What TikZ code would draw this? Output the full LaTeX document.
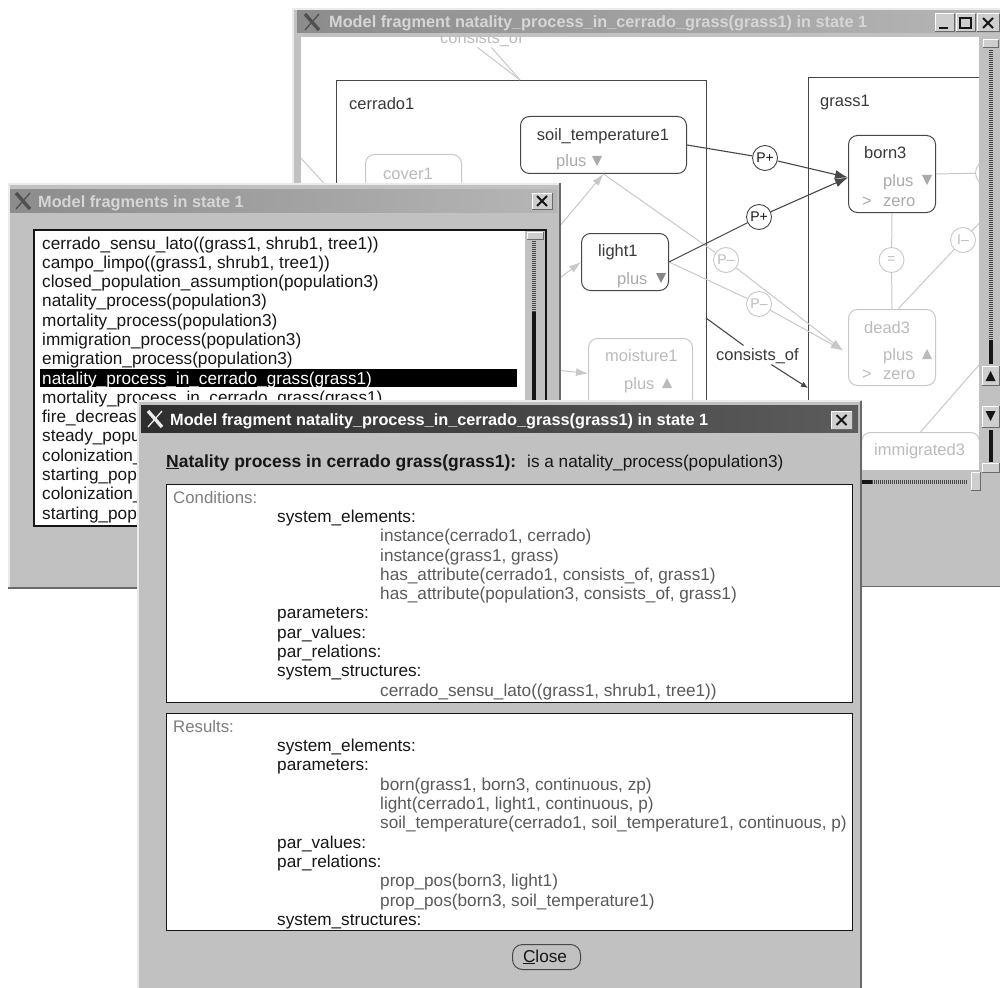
\documentclass[tikz,border=0pt]{standalone}
\usepackage{fontspec}
\setmainfont{Liberation Sans}
\usetikzlibrary{arrows.meta}

\definecolor{winbg}{HTML}{C1C1C1}
\definecolor{winhi}{HTML}{EBEBEB}
\definecolor{winlo}{HTML}{6A6A6A}
\definecolor{ink}{HTML}{161616}
\definecolor{inkmid}{HTML}{5A5A5A}
\definecolor{inksoft}{HTML}{7E7E7E}
\definecolor{edge}{HTML}{474747}
\definecolor{ghost}{HTML}{C8C8C8}
\definecolor{ghosttext}{HTML}{BBBBBB}
\definecolor{plusgray}{HTML}{AAAAAA}
\definecolor{tbonA}{HTML}{2E2E2E}
\definecolor{tbonB}{HTML}{5C5C5C}
\definecolor{tboffA}{HTML}{8C8C8C}
\definecolor{tboffB}{HTML}{B6B6B6}
\definecolor{tbofftext}{HTML}{D6D6D6}

% X window-system logo centred at (#1,#2) in colour #3
\newcommand\xwinlogo[3]{%
  \draw[#3,line width=3.4pt] ({#1-7},{#2-8}) -- ({#1+7},{#2+8});
  \draw[#3,line width=1.3pt] ({#1+7},{#2-8}) -- ({#1-7},{#2+8});
}
% raised bevelled button from (#1,#2) to (#3,#4)
\newcommand\winbevel[4]{%
  \fill[winbg!80!white] (#1,#2) rectangle (#3,#4);
  \draw[white,line width=1pt] (#1,#4) -- (#1,#2) -- (#3,#2);
  \draw[winlo,line width=1pt] (#1,#4) -- (#3,#4) -- (#3,#2);
}
% cross of a close button centred at (#1,#2), half size #3
\newcommand\wincross[3]{%
  \draw[ink,line width=1.8pt] ({#1-#3},{#2-#3}) -- ({#1+#3},{#2+#3})
                              ({#1+#3},{#2-#3}) -- ({#1-#3},{#2+#3});
}
% small quantity-direction triangles
\newcommand\triDn[3]{\fill[#3] ({#1-5},{#2-5}) -- ({#1+5},{#2-5}) -- (#1,{#2+5}) -- cycle;}
\newcommand\triUp[3]{\fill[#3] ({#1-5},{#2+5}) -- ({#1+5},{#2+5}) -- (#1,{#2-5}) -- cycle;}

\tikzset{
  txtbody/.style={anchor=base west, inner sep=0pt, text=ink, font=\fontsize{17.2}{20}\selectfont},
  txtitem/.style={txtbody, text=inkmid},
  txtcap/.style={txtbody, text=inksoft, font=\fontsize{16.8}{20}\selectfont},
  wintitle/.style={anchor=base west, inner sep=0pt, font=\fontsize{16.3}{19}\selectfont\bfseries},
  cvtext/.style={anchor=base west, inner sep=0pt, text=ink!85, font=\fontsize{16.5}{19}\selectfont},
  cvghosttext/.style={cvtext, text=ghosttext},
  plustext/.style={cvtext, text=plusgray},
  qbox/.style={draw=edge, rounded corners=9pt, line width=1pt, inner sep=0pt, anchor=north west},
  ghostbox/.style={draw=ghost, rounded corners=9pt, line width=1pt, inner sep=0pt, anchor=north west},
  container/.style={draw=edge, line width=1pt, inner sep=0pt, anchor=north west},
  relcirc/.style={circle, draw=edge, line width=0.9pt, minimum size=25pt, inner sep=0pt,
                  font=\fontsize{14}{14}\selectfont, text=ink},
  ghostcirc/.style={relcirc, draw=ghost, text=ghosttext},
  cvlink/.style={draw=edge, line width=1.1pt},
  ghostlink/.style={draw=ghost, line width=1pt},
  endtip/.style={-{Latex[length=13pt,width=9pt]}},
  smalltip/.style={-{Latex[length=7pt,width=6pt]}},
  ghosttip/.style={-{Latex[length=12pt,width=8pt]}},
  panel/.style={draw=ink, line width=1.3pt, fill=white, inner sep=0pt, anchor=north west},
}

\begin{document}
\begin{tikzpicture}[x=1pt,y=-1pt]
\useasboundingbox (0,0) rectangle (1000,987);
\fill[white] (0,0) rectangle (1000,987);

% ================= back window: graphical model fragment =================
\fill[winbg] (292,8) rectangle (1000,586);
\draw[winhi,line width=1.5pt] (293,586) -- (293,9) -- (1000,9);
\draw[winlo,line width=1pt] (292,586) -- (1000,586);
\shade[left color=tboffA, right color=tboffB] (297,11) rectangle (1000,33);
\xwinlogo{312}{22}{ink!75}
\node[wintitle, text=tbofftext] (w1title) at (329,28)
  {Model fragment natality\_process\_in\_cerrado\_grass(grass1) in state 1};
\winbevel{935}{14}{954}{32}
\draw[ink,line width=2pt] (939,28) -- (948,28);
\winbevel{956}{14}{975}{32}
\draw[ink,line width=1.2pt] (960,18) rectangle (971,28);
\winbevel{977}{14}{999}{32}
\wincross{988}{23}{5}

% canvas
\fill[white] (301,37) rectangle (979,470);
\begin{scope}
\clip (301,37) rectangle (979,470);

% containers
\node[container, minimum width=370, minimum height=600] (cerr) at (336,80) {};
\node[container, minimum width=300, minimum height=600] (gras) at (808,77) {};
\node[cvtext] (cerrlbl) at (349,110) {cerrado1};
\node[cvtext] (graslbl) at (820,107) {grass1};

% faint structure above
\node[cvghosttext] (cons0) at (440,44) {consists\_of};
\coordinate (ctop) at (520,80);
\draw[ghostlink] ([xshift=-4pt]cons0.south) -- (ctop);
\draw[ghostlink] ([xshift=10pt]cons0.south) -- (ctop);
\coordinate (ghA) at (299,156);
\coordinate (ghB) at (332,192);
\draw[ghostlink] (ghA) -- (ghB);

% quantities
\node[qbox, minimum width=166, minimum height=57] (st) at (520,116) {};
\node[cvtext, anchor=base] (stname) at (603,141) {soil\_temperature1};
\node[plustext] (stplus) at (556,167) {plus};
\triDn{597}{161}{plusgray}

\node[ghostbox, minimum width=96, minimum height=70] (co) at (365,154) {};
\node[cvghosttext] (coname) at (383,179) {cover1};

\node[qbox, minimum width=87, minimum height=57] (li) at (581,233) {};
\node[cvtext] (liname) at (598,256) {light1};
\node[plustext] (liplus) at (617,284) {plus};
\triDn{661}{278}{plusgray!80!black}

\node[ghostbox, minimum width=104, minimum height=70] (mo) at (588,338) {};
\node[cvghosttext] (moname) at (605,361) {moisture1};
\node[cvghosttext] (moplus) at (624,389) {plus};
\triUp{667}{383}{ghosttext}

\node[qbox, minimum width=87, minimum height=77] (bo) at (848,135) {};
\node[cvtext] (boname) at (864,159) {born3};
\node[plustext] (boplus) at (883,186) {plus};
\triDn{927}{180}{plusgray}
\node[plustext] (bogt) at (862,206) {>};
\node[plustext] (bozero) at (883,206) {zero};

\node[ghostbox, minimum width=87, minimum height=76] (de) at (848,309) {};
\node[cvghosttext] (dename) at (864,333) {dead3};
\node[cvghosttext] (deplus) at (883,360) {plus};
\triUp{927}{354}{ghosttext}
\node[cvghosttext] (degt) at (862,379) {>};
\node[cvghosttext] (dezero) at (883,379) {zero};

\node[ghostbox, minimum width=118, minimum height=70] (imm) at (861,432) {};
\node[cvghosttext] (immname) at (874,455) {immigrated3};

% influence / proportionality markers
\node[relcirc] (pp1) at (765,158) {P+};
\node[relcirc] (pp2) at (759,217) {P+};
\node[ghostcirc] (pm1) at (726,260) {P--};
\node[ghostcirc] (pm2) at (759,304) {P--};
\node[ghostcirc] (eqc) at (891.5,260) {=};
\node[ghostcirc] (ic) at (963,240) {I--};
\node[ghostcirc] (rc) at (988,173) {};

% inactive relations
\coordinate (lf1) at (548,240);
\coordinate (lf2) at (548,287);
\coordinate (lf3) at (548,369);
\draw[ghostlink, ghosttip] (lf1) -- (st.south);
\draw[ghostlink, ghosttip] (lf2) -- (li.west);
\draw[ghostlink, ghosttip] (lf3) -- (mo.west);
\draw[ghostlink] (st.south) -- (pm1);
\draw[ghostlink, ghosttip] (pm1) -- ([xshift=-5pt,yshift=-3pt]de.west);
\draw[ghostlink] (li.east) -- (pm2);
\draw[ghostlink, ghosttip] (pm2) -- ([xshift=-5pt,yshift=-3pt]de.west);
\draw[ghostlink] (bo.south) -- (eqc) -- (de.north);
\draw[ghostlink] (ic) -- ([xshift=6pt]de.north);
\coordinate (icout) at (992,210);
\draw[ghostlink] (ic) -- (icout);
\draw[ghostlink] (bo.east) -- (rc);
\coordinate (imout) at (992,350);
\draw[ghostlink] (imm.north) -- (imout);

% active proportionalities
\draw[cvlink] (st.east) -- (pp1);
\draw[cvlink, endtip] (pp1) -- ([yshift=-3.5pt]bo.west);
\draw[cvlink] (li.east) -- (pp2);
\draw[cvlink, endtip] (pp2) -- ([yshift=-3.5pt]bo.west);

% consists_of between the two containers
\node[cvtext] (cons) at (716,360) {consists\_of};
\coordinate (consA) at (706,318);
\coordinate (gin) at (808,388);
\draw[cvlink, shorten >=4pt] (consA) -- (cons);
\draw[cvlink, smalltip, shorten <=2pt] (cons) -- (gin);
\end{scope}

% vertical scrollbar
\winbevel{983}{40}{998}{48}
\draw[ink!80, line width=4pt, dash pattern=on 1pt off 1pt] (991,50) -- (991,340);
\draw[ink, line width=4pt] (991,340) -- (991,364);
\winbevel{982}{366}{999}{385}
\triUp{990.5}{376}{ink}
\winbevel{982}{406}{999}{427}
\triDn{990.5}{416}{ink}
\draw[ink, line width=4pt] (991,430) -- (991,462);
\winbevel{982}{463}{999}{472}
% horizontal scrollbar
\draw[ink, line width=4pt] (301,482) -- (872,482);
\draw[ink!80, line width=4pt, dash pattern=on 1pt off 1pt] (872,482) -- (968,482);
\winbevel{971}{472}{980}{490}

% ================= middle window: list of model fragments =================
\fill[winbg] (8,183) rectangle (560,588);
\draw[winhi,line width=1.5pt] (9,588) -- (9,184) -- (560,184);
\draw[winlo,line width=1.2pt] (8,588) -- (560,588) -- (560,183);
\shade[left color=tboffA, right color=tboffB] (10,189) rectangle (557,212);
\xwinlogo{23}{201}{ink!75}
\node[wintitle, text=tbofftext] (w2title) at (38,207) {Model fragments in state 1};
\winbevel{532}{193}{552}{209}
\wincross{542}{201}{5}

\fill[white] (35,231) rectangle (525,525);
\draw[ink, line width=1.3pt] (34,230) rectangle (546,526);
\fill[winbg] (525.7,231) rectangle (545.3,525.3);
\winbevel{527}{232}{543}{239}
\draw[ink!80, line width=3.5pt, dash pattern=on 1pt off 1pt] (534,241) -- (534,312);
\draw[ink, line width=3.5pt] (534,312) -- (534,525);

\fill[black] (40,369) rectangle (517,387);
\node[txtbody] (it1)  at (42,249.0) {cerrado\_sensu\_lato((grass1, shrub1, tree1))};
\node[txtbody] (it2)  at (42,268.3) {campo\_limpo((grass1, shrub1, tree1))};
\node[txtbody] (it3)  at (42,287.6) {closed\_population\_assumption(population3)};
\node[txtbody] (it4)  at (42,306.9) {natality\_process(population3)};
\node[txtbody] (it5)  at (42,326.2) {mortality\_process(population3)};
\node[txtbody] (it6)  at (42,345.5) {immigration\_process(population3)};
\node[txtbody] (it7)  at (42,364.7) {emigration\_process(population3)};
\node[txtbody, text=white] (it8) at (42,384.0) {natality\_process\_in\_cerrado\_grass(grass1)};
\node[txtbody] (it9)  at (42,403.3) {mortality\_process\_in\_cerrado\_grass(grass1)};
\node[txtbody] (it10) at (42,422.6) {fire\_decreas};
\node[txtbody] (it11) at (42,441.9) {steady\_popu};
\node[txtbody] (it12) at (42,461.2) {colonization\_};
\node[txtbody] (it13) at (42,480.5) {starting\_pop};
\node[txtbody] (it14) at (42,499.8) {colonization\_};
\node[txtbody] (it15) at (42,519.1) {starting\_pop};

% ================= front window: textual model fragment =================
\fill[winbg] (137,400) rectangle (862,990);
\draw[winhi,line width=1.5pt] (138,990) -- (138,401) -- (861,401);
\draw[winlo,line width=1.5pt] (861,401) -- (861,990);
\shade[left color=tbonA, right color=tbonB] (141,405) rectangle (858,432);
\xwinlogo{155}{419}{white!92!black}
\node[wintitle, text=white] (w3title) at (170,425)
  {Model fragment natality\_process\_in\_cerrado\_grass(grass1) in state 1};
\winbevel{831}{411}{852}{429}
\wincross{841.5}{420}{5}

\node[txtbody, font=\fontsize{17.5}{20}\selectfont\bfseries] (head) at (166,467)
  {\underline{N}atality process in cerrado grass(grass1):};
\node[txtbody] (headis) at (527,467) {is a natality\_process(population3)};

% conditions
\node[panel, minimum width=686, minimum height=218] (condbox) at (166,484) {};
\node[txtcap]  (c0)  at (173,503.0) {Conditions:};
\node[txtbody] (c1)  at (277,522.3) {system\_elements:};
\node[txtitem] (c2)  at (380,541.6) {instance(cerrado1, cerrado)};
\node[txtitem] (c3)  at (380,561.0) {instance(grass1, grass)};
\node[txtitem] (c4)  at (380,580.2) {has\_attribute(cerrado1, consists\_of, grass1)};
\node[txtitem] (c5)  at (380,599.5) {has\_attribute(population3, consists\_of, grass1)};
\node[txtbody] (c6)  at (277,618.8) {parameters:};
\node[txtbody] (c7)  at (277,638.1) {par\_values:};
\node[txtbody] (c8)  at (277,657.4) {par\_relations:};
\node[txtbody] (c9)  at (277,676.7) {system\_structures:};
\node[txtitem] (c10) at (380,696.0) {cerrado\_sensu\_lato((grass1, shrub1, tree1))};

% results
\node[panel, minimum width=686, minimum height=217] (resbox) at (166,713) {};
\node[txtcap]  (r0)  at (173,732.0) {Results:};
\node[txtbody] (r1)  at (277,751.5) {system\_elements:};
\node[txtbody] (r2)  at (277,770.8) {parameters:};
\node[txtitem] (r3)  at (380,790.0) {born(grass1, born3, continuous, zp)};
\node[txtitem] (r4)  at (380,809.4) {light(cerrado1, light1, continuous, p)};
\node[txtitem] (r5)  at (380,828.7) {soil\_temperature(cerrado1, soil\_temperature1, continuous, p)};
\node[txtbody] (r6)  at (277,848.0) {par\_values:};
\node[txtbody] (r7)  at (277,867.3) {par\_relations:};
\node[txtitem] (r8)  at (380,886.6) {prop\_pos(born3, light1)};
\node[txtitem] (r9)  at (380,906.0) {prop\_pos(born3, soil\_temperature1)};
\node[txtbody] (r10) at (277,925.2) {system\_structures:};

% close button
\node[draw=edge, line width=1pt, rounded corners=10pt, inner sep=0pt, anchor=north west,
      minimum width=68, minimum height=25] (closebtn) at (512,944) {};
\node[txtbody, anchor=base] (closetxt) at (545,962) {\underline{C}lose};
\end{tikzpicture}
\end{document}
